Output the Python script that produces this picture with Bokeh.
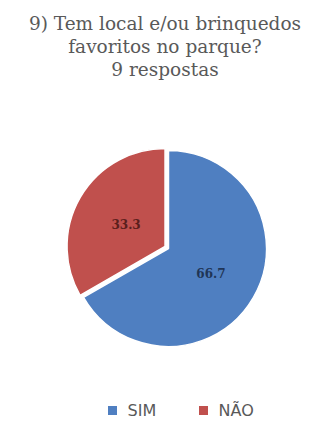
import math
from bokeh.plotting import figure
from bokeh.models import Range1d, ColumnDataSource
from bokeh.core.properties import value
from bokeh.embed import file_html
from bokeh.resources import INLINE

title_lines = ["9) Tem local e/ou brinquedos", "favoritos no parque?", "9 respostas"]
categories = ["SIM", "NÃO"]
values = [66.7, 33.3]
colors = ["#4F7FC1", "#C0504D"]
label_colors = ["#1F3556", "#5A1E1C"]

W, H = 327, 430
p = figure(width=W, height=H, output_backend="svg", toolbar_location=None,
           x_range=Range1d(0, W), y_range=Range1d(0, H), min_border=0)
p.axis.visible = False
p.grid.visible = False
p.outline_line_color = None
p.background_fill_color = "white"
p.border_fill_color = "white"

cx, cy, r = 168, H - 248, 98
total = sum(values)
start = [0.0] * len(values)
end = [0.0] * len(values)
xs, ys, lx, ly, labels = [], [], [], [], []
acc = 0.0
for i, v in enumerate(values):
    a0 = math.pi / 2 - 2 * math.pi * (acc + v) / total
    a1 = math.pi / 2 - 2 * math.pi * acc / total
    acc += v
    start[i], end[i] = a0, a1
    mid = (a0 + a1) / 2
    off = 4 if i == 1 else 0
    xs.append(cx + off * math.cos(mid))
    ys.append(cy + off * math.sin(mid))
    lx.append(cx + 0.5 * r * math.cos(mid))
    ly.append(cy + 0.5 * r * math.sin(mid))
    labels.append(f"{v:.1f}")

src = ColumnDataSource(dict(x=xs, y=ys, start=start, end=end, color=colors,
                            lx=lx, ly=ly, label=labels, lc=label_colors))
p.wedge(x="x", y="y", radius=r, start_angle="start", end_angle="end",
        fill_color="color", line_color="white", line_width=1.5, source=src)
p.text(x="lx", y="ly", text="label", text_color="lc", text_align="center",
       text_baseline="middle", text_font=value("DejaVu Serif"),
       text_font_size="12px", text_font_style="bold", source=src)

p.text(x=[W / 2 + 1] * 3, y=[H - 23, H - 46, H - 69], text=title_lines,
       text_align="center", text_baseline="middle", text_color="#595959",
       text_font=value("DejaVu Serif"), text_font_size="18.5px")

leg_x = [112, 203]
p.scatter(x=leg_x, y=[H - 410] * 2, marker="square", size=9,
          fill_color=colors, line_color=None)
p.text(x=[x + 15 for x in leg_x], y=[H - 410] * 2, text=categories,
       text_align="left", text_baseline="middle", text_color="#595959",
       text_font=value("DejaVu Sans"), text_font_size="16px")

open("out.html", "w").write(file_html(p, INLINE))
